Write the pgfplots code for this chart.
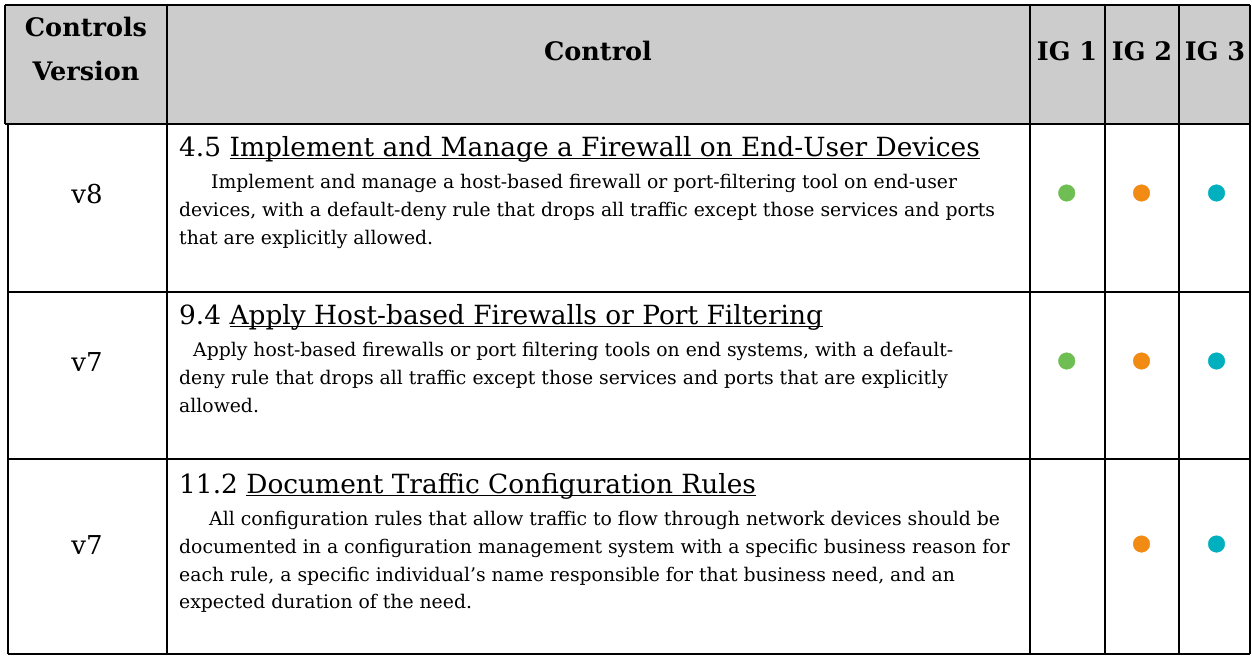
\documentclass[border=0pt]{standalone}
\usepackage{pgfplots}
\pgfplotsset{compat=1.18}
\usepackage{fontspec}
\setmainfont{DejaVu Serif}
\definecolor{hdr}{RGB}{204,204,204}
\definecolor{igone}{RGB}{111,190,84}
\definecolor{igtwo}{RGB}{241,139,20}
\definecolor{igthree}{RGB}{0,176,190}
\newsavebox\ubox
\newcommand\ul[1]{\sbox\ubox{#1}\rlap{\rule[-3bp]{\wd\ubox}{1.4bp}}\usebox\ubox}
\newcommand\hfont{\fontsize{25.5bp}{30bp}\selectfont\bfseries}
\newcommand\tfont{\fontsize{26.4bp}{30bp}\selectfont}
\newcommand\vfont{\fontsize{26bp}{30bp}\selectfont}
\newcommand\bfont{\fontsize{18.8bp}{22bp}\selectfont}
\begin{document}
\begin{tikzpicture}
\begin{axis}[width=1252bp, height=656bp, scale only axis,
  xmin=0, xmax=1252, ymin=0, ymax=656, y dir=reverse,
  axis lines=none, ticks=none, clip=false]
\path (axis cs:0,0) rectangle (axis cs:1252,656);
% header
\fill[hdr] (axis cs:5,5) rectangle (axis cs:1250,124);
\begin{scope}[line width=2.2bp, black]
\draw (axis cs:5,5) -- (axis cs:1250,5);
\draw (axis cs:5,5) -- (axis cs:5,124);
\draw (axis cs:8,124) -- (axis cs:8,654);
\draw (axis cs:5,124) -- (axis cs:1250,124);
\draw (axis cs:8,292) -- (axis cs:1250,292);
\draw (axis cs:8,459) -- (axis cs:1250,459);
\draw (axis cs:8,654) -- (axis cs:1250,654);
\draw (axis cs:167,5) -- (axis cs:167,654);
\draw (axis cs:1030,5) -- (axis cs:1030,654);
\draw (axis cs:1105,5) -- (axis cs:1105,654);
\draw (axis cs:1179,5) -- (axis cs:1179,654);
\draw (axis cs:1250,5) -- (axis cs:1250,654);
\end{scope}
% header text
\node[anchor=base, inner sep=0] at (axis cs:86,37) {\hfont Controls};
\node[anchor=base, inner sep=0] at (axis cs:86,81) {\hfont Version};
\node[anchor=base, inner sep=0] at (axis cs:598,61) {\hfont Control};
\node[anchor=base, inner sep=0] at (axis cs:1067,61) {\hfont IG 1};
\node[anchor=base, inner sep=0] at (axis cs:1142,61) {\hfont IG 2};
\node[anchor=base, inner sep=0] at (axis cs:1215,61) {\hfont IG 3};
% version column
\node[anchor=base, inner sep=0] at (axis cs:87,203) {\vfont v8};
\node[anchor=base, inner sep=0] at (axis cs:87,371) {\vfont v7};
\node[anchor=base, inner sep=0] at (axis cs:87,554) {\vfont v7};
% row 1
\node[anchor=base west, inner sep=0] at (axis cs:179,156) {\tfont 4.5 \ul{Implement and Manage a Firewall on End-User Devices}};
\node[anchor=base west, inner sep=0] at (axis cs:211,188) {\bfont Implement and manage a host-based firewall or port-filtering tool on end-user};
\node[anchor=base west, inner sep=0] at (axis cs:179,216) {\bfont devices, with a default-deny rule that drops all traffic except those services and ports};
\node[anchor=base west, inner sep=0] at (axis cs:179,244) {\bfont that are explicitly allowed.};
% row 2
\node[anchor=base west, inner sep=0] at (axis cs:179,324) {\tfont 9.4 \ul{Apply Host-based Firewalls or Port Filtering}};
\node[anchor=base west, inner sep=0] at (axis cs:193,356) {\bfont Apply host-based firewalls or port filtering tools on end systems, with a default-};
\node[anchor=base west, inner sep=0] at (axis cs:179,384) {\bfont deny rule that drops all traffic except those services and ports that are explicitly};
\node[anchor=base west, inner sep=0] at (axis cs:179,412) {\bfont allowed.};
% row 3
\node[anchor=base west, inner sep=0] at (axis cs:179,493) {\tfont 11.2 \ul{Document Traffic Configuration Rules}};
\node[anchor=base west, inner sep=0] at (axis cs:209,525) {\bfont All configuration rules that allow traffic to flow through network devices should be};
\node[anchor=base west, inner sep=0] at (axis cs:179,553) {\bfont documented in a configuration management system with a specific business reason for};
\node[anchor=base west, inner sep=0] at (axis cs:179,581) {\bfont each rule, a specific individual’s name responsible for that business need, and an};
\node[anchor=base west, inner sep=0] at (axis cs:179,608) {\bfont expected duration of the need.};
% IG dots
\addplot[only marks, mark=*, mark size=8.3bp, color=igone] coordinates {(1066.7,193) (1066.7,361)};
\addplot[only marks, mark=*, mark size=8.3bp, color=igtwo] coordinates {(1141.5,193) (1141.5,361) (1141.5,544)};
\addplot[only marks, mark=*, mark size=8.3bp, color=igthree] coordinates {(1216.5,193) (1216.5,361) (1216.5,544)};
\end{axis}
\end{tikzpicture}
\end{document}
